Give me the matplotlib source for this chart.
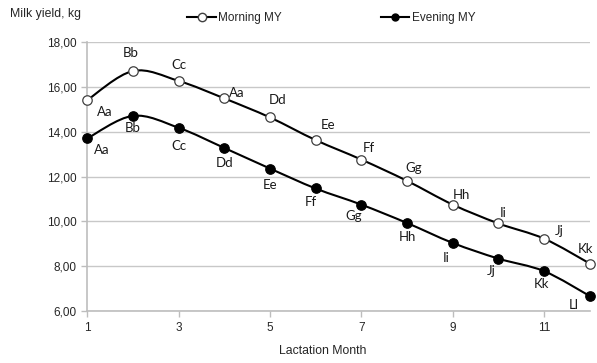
import matplotlib.pyplot as plt
from matplotlib.path import Path
from matplotlib.patches import PathPatch
from matplotlib.lines import Line2D
from matplotlib.ticker import FuncFormatter

months = [1, 2, 3, 4, 5, 6, 7, 8, 9, 10, 11, 12]
morning_my = [15.41, 16.71, 16.27, 15.49, 14.64, 13.63, 12.76, 11.81, 10.75, 9.91, 9.23, 8.12]
evening_my = [13.70, 14.71, 14.18, 13.28, 12.36, 11.47, 10.75, 9.93, 9.04, 8.34, 7.78, 6.67]
morning_labels = ["Aa", "Bb", "Cc", "Aa", "Dd", "Ee", "Ff", "Gg", "Hh", "Ii", "Jj", "Kk"]
evening_labels = ["Aa", "Bb", "Cc", "Dd", "Ee", "Ff", "Gg", "Hh", "Ii", "Jj", "Kk", "Ll"]

# label offsets in pixels (dx, dy)
morning_off = [(18, -12), (-2, 18), (0, 16), (13, 5), (8, 17), (12, 15),
               (7, 12), (7, 13), (9, 10), (5, 10), (15, 8), (-4, 15)]
evening_off = [(15, -12), (0, -12), (0, -18), (0, -15), (0, -16), (-5, -14),
               (-8, -11), (0, -14), (-7, -15), (-7, -12), (-3, -13), (-16, -9)]

plt.rcParams["font.family"] = ["Liberation Sans", "DejaVu Sans"]


def smooth_path(xs, ys):
    # Catmull-Rom style bezier through every point
    verts = [(xs[0], ys[0])]
    codes = [Path.MOVETO]
    n = len(xs)
    for i in range(n - 1):
        x0, y0 = (xs[i - 1], ys[i - 1]) if i > 0 else (xs[i], ys[i])
        x1, y1 = xs[i], ys[i]
        x2, y2 = xs[i + 1], ys[i + 1]
        x3, y3 = (xs[i + 2], ys[i + 2]) if i + 2 < n else (x2, y2)
        c1 = (x1 + (x2 - x0) / 6, y1 + (y2 - y0) / 6)
        c2 = (x2 - (x3 - x1) / 6, y2 - (y3 - y1) / 6)
        verts += [c1, c2, (x2, y2)]
        codes += [Path.CURVE4] * 3
    return Path(verts, codes)


fig = plt.figure(figsize=(5.97, 3.63), dpi=100)
ax = fig.add_axes([0.146, 0.143, 0.842, 0.741])

for ys, face in [(morning_my, "white"), (evening_my, "black")]:
    ax.add_patch(PathPatch(smooth_path(months, ys), facecolor="none",
                           edgecolor="black", lw=1.5, zorder=3, clip_on=False))
    ax.plot(months, ys, ls="none", marker="o", ms=6.8, mfc=face,
            mec="#404040" if face == "white" else "black", mew=0.9, zorder=4, clip_on=False)

for x, y, t, (dx, dy) in zip(months, morning_my, morning_labels, morning_off):
    ax.annotate(t, (x, y), xytext=(dx, dy), textcoords="offset pixels",
                ha="center", va="center", fontsize=9.5, family="Lato", color="#1a1a1a")
for x, y, t, (dx, dy) in zip(months, evening_my, evening_labels, evening_off):
    ax.annotate(t, (x, y), xytext=(dx, dy), textcoords="offset pixels",
                ha="center", va="center", fontsize=9.5, family="Lato", color="#1a1a1a")

ax.set_xlim(1, 12)
ax.set_ylim(6, 18)
ax.set_xticks([1, 3, 5, 7, 9, 11])
ax.set_yticks([6, 8, 10, 12, 14, 16, 18])
ax.yaxis.set_major_formatter(FuncFormatter(lambda v, p: f"{v:.2f}".replace(".", ",")))
ax.grid(axis="y", color="#c8c8c8", lw=1)
ax.set_axisbelow(True)
for s in ["top", "right"]:
    ax.spines[s].set_visible(False)
for s in ["left", "bottom"]:
    ax.spines[s].set_color("#bdbdbd")
    ax.spines[s].set_linewidth(1.2)
ax.tick_params(colors="#bdbdbd", labelcolor="#262626", labelsize=8.5, length=4, width=1)

fig.text(0.017, 0.961, "Milk yield, kg", fontsize=8.8, color="#262626", va="center")
fig.text(0.541, 0.033, "Lactation Month", fontsize=8.8, color="#262626", ha="center", va="center")

handles = [
    Line2D([], [], color="black", lw=1.5, marker="o", ms=6, mfc="white", mec="#404040"),
    Line2D([], [], color="black", lw=1.5, marker="o", ms=5, mfc="black", mec="black"),
]
fig.legend(handles, ["Morning MY", "Evening MY"], loc="center", bbox_to_anchor=(0.555, 0.95),
           ncol=2, frameon=False, fontsize=8.5, handlelength=2.4, handletextpad=0.2,
           columnspacing=8.4, labelcolor="#262626")

fig.savefig("out.png", dpi=100)
